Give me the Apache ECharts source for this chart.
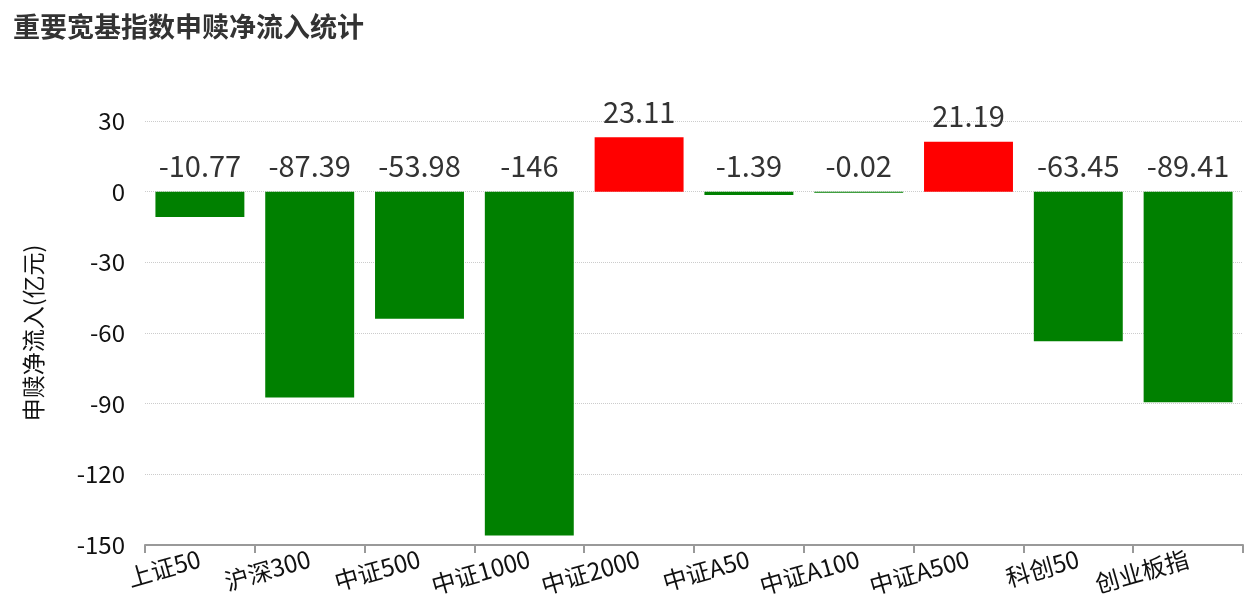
<!DOCTYPE html>
<html>
<head>
<meta charset="utf-8">
<script src="https://cdn.jsdelivr.net/npm/echarts@6/dist/echarts.min.js"></script>
<style>
  html, body { margin: 0; padding: 0; background: #fff; }
  #main { width: 1256px; height: 610px; }
</style>
</head>
<body>
<div id="main"></div>
<script>
const categories = ["上证50", "沪深300", "中证500", "中证1000", "中证2000", "中证A50", "中证A100", "中证A500", "科创50", "创业板指"];
const netFlow = [-10.77, -87.39, -53.98, -146, 23.11, -1.39, -0.02, 21.19, -63.45, -89.41];

const font = '"Microsoft YaHei", "Noto Sans CJK SC", sans-serif';

let myChart = echarts.init(document.getElementById("main"));
let option;

option = {
  textStyle: { fontFamily: font },
  title: {
    text: "重要宽基指数申赎净流入统计",
    left: 8,
    top: 8,
    textStyle: { fontSize: 27, fontWeight: "bold", color: "#333", fontFamily: font },
  },
  grid: {
    left: 145,
    right: 13,
    top: 121,
    bottom: 65,
  },
  xAxis: {
    type: "category",
    data: categories,
    axisLine: { onZero: false, lineStyle: { color: "#999", width: 2 } },
    axisTick: { show: true, length: 8, lineStyle: { color: "#999", width: 2 } },
    axisLabel: { rotate: 16, fontSize: 24, color: "#111", margin: 13, interval: 0 },
  },
  yAxis: {
    type: "value",
    min: -150,
    max: 30,
    interval: 30,
    name: "申赎净流入(亿元)",
    nameLocation: "middle",
    nameRotate: 90,
    nameGap: 100,
    nameTextStyle: { fontSize: 23, color: "#111" },
    axisLine: { show: false },
    axisTick: { show: false },
    axisLabel: { fontSize: 24, color: "#111", margin: 20 },
    splitLine: { lineStyle: { type: "dotted", color: "#ccc" } },
  },
  series: [
    {
      type: "bar",
      barWidth: "81%",
      barMinHeight: 1,
      data: netFlow.map((v) => ({
        value: v,
        itemStyle: { color: v >= 0 ? "#ff0000" : "#008000" },
      })),
      label: {
        show: true,
        position: "top",
        fontSize: 29,
        color: "#333",
        distance: 11,
      },
    },
  ],
};

option && myChart.setOption(option);
</script>
</body>
</html>
